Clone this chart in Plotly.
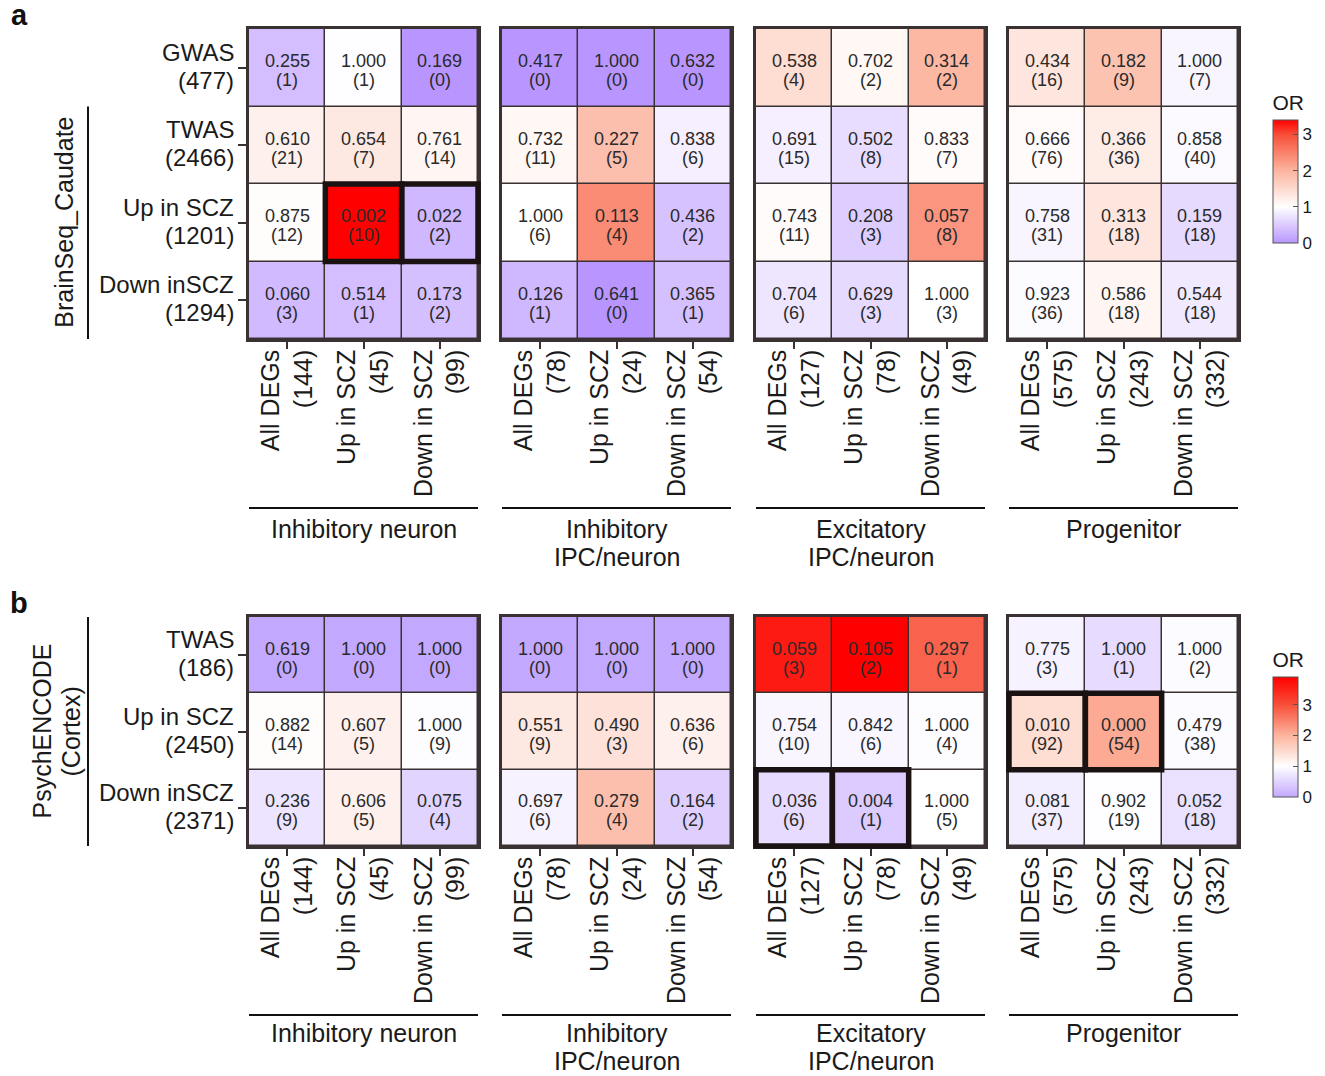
import plotly.graph_objects as go

# ---------------- data ----------------
ROWS_A = ["GWAS<br>(477)", "TWAS<br>(2466)", "Up in SCZ<br>(1201)", "Down inSCZ<br>(1294)"]
ROWS_B = ["TWAS<br>(186)", "Up in SCZ<br>(2450)", "Down inSCZ<br>(2371)"]
GROUPS = ["Inhibitory neuron", "Inhibitory<br>IPC/neuron", "Excitatory<br>IPC/neuron", "Progenitor"]
DEG_TYPES = ["All DEGs", "Up in SCZ", "Down in SCZ"]
DEG_N = [[144, 45, 99], [78, 24, 54], [127, 78, 49], [575, 243, 332]]

# Panel a (BrainSeq_Caudate): p-values, overlap counts, odds ratios (estimated from colour)
P_A = [
    [[0.255, 1.000, 0.169], [0.610, 0.654, 0.761], [0.875, 0.002, 0.022], [0.060, 0.514, 0.173]],
    [[0.417, 1.000, 0.632], [0.732, 0.227, 0.838], [1.000, 0.113, 0.436], [0.126, 0.641, 0.365]],
    [[0.538, 0.702, 0.314], [0.691, 0.502, 0.833], [0.743, 0.208, 0.057], [0.704, 0.629, 1.000]],
    [[0.434, 0.182, 1.000], [0.666, 0.366, 0.858], [0.758, 0.313, 0.159], [0.923, 0.586, 0.544]],
]
N_A = [
    [[1, 1, 0], [21, 7, 14], [12, 10, 2], [3, 1, 2]],
    [[0, 0, 0], [11, 5, 6], [6, 4, 2], [1, 0, 1]],
    [[4, 2, 2], [15, 8, 7], [11, 3, 8], [6, 3, 3]],
    [[16, 9, 7], [76, 36, 40], [31, 18, 18], [36, 18, 18]],
]
OR_A = [
    [[0.38, 0.98, 0.0], [1.2, 1.3, 1.12], [1.03, 3.4, 0.32], [0.34, 0.38, 0.4]],
    [[0.0, 0.0, 0.0], [1.1, 1.85, 0.85], [1.0, 2.4, 0.42], [0.32, 0.0, 0.4]],
    [[1.45, 1.1, 1.95], [0.85, 0.68, 1.05], [1.05, 0.53, 2.3], [0.75, 0.65, 1.0]],
    [[1.35, 1.8, 0.9], [1.05, 1.25, 0.95], [0.9, 1.35, 0.65], [0.96, 1.12, 0.8]],
]
SIG_A = [[(2, 1), (2, 2)], [], [], []]

# Panel b (PsychENCODE Cortex)
P_B = [
    [[0.619, 1.000, 1.000], [0.882, 0.607, 1.000], [0.236, 0.606, 0.075]],
    [[1.000, 1.000, 1.000], [0.551, 0.490, 0.636], [0.697, 0.279, 0.164]],
    [[0.059, 0.105, 0.297], [0.754, 0.842, 1.000], [0.036, 0.004, 1.000]],
    [[0.775, 1.000, 1.000], [0.010, 0.000, 0.479], [0.081, 0.902, 0.052]],
]
N_B = [
    [[0, 0, 0], [14, 5, 9], [9, 5, 4]],
    [[0, 0, 0], [9, 3, 6], [6, 4, 2]],
    [[3, 2, 1], [10, 6, 4], [6, 1, 5]],
    [[3, 1, 2], [92, 54, 38], [37, 19, 18]],
]
OR_B = [
    [[0.0, 0.0, 0.0], [1.03, 1.2, 0.97], [0.7, 1.2, 0.5]],
    [[0.0, 0.0, 0.0], [1.3, 1.4, 1.2], [0.85, 1.85, 0.45]],
    [[3.6, 3.9, 2.8], [0.9, 0.9, 0.97], [0.6, 0.4, 1.0]],
    [[0.85, 0.6, 0.95], [1.45, 2.1, 0.95], [0.8, 0.98, 0.65]],
]
SIG_B = [[], [], [(2, 0), (2, 1)], [(1, 0), (1, 1)]]

OR_MAX_A = 3.4
OR_MAX_B = 3.9
OR_TICKS = [0, 1, 2, 3]

# ---------------- styling ----------------
W, H = 1325, 1076
FONT = "Liberation Sans, Arial, Helvetica, sans-serif"
TXT = "#1a1a1a"
EDGE = "#3a3232"
LABEL_SIZE = 25
LINE_H = 28  # line spacing of two-line labels (px)

HM_X = [(249, 478), (502, 731), (756, 985), (1009, 1238)]  # pixel extents
PANEL_Y = {"a": (29, 339), "b": (617, 846)}
GROUP_LINE_Y = {"a": (508, 21), "b": (1015, 18)}  # underline y, label offset


def px_x(v):
    return v / W


def px_y(v):
    return 1 - v / H


def axn(k):
    return "" if k == 1 else str(k)


def colorscale(purple, ormax):
    anchors = [(0, purple), (1, "rgb(255,255,255)"), (2, "rgb(252,180,158)"),
               (3, "rgb(248,78,56)"), (ormax, "rgb(255,0,0)")]
    return [[min(o / ormax, 1.0), c] for o, c in anchors if o <= ormax]


fig = go.Figure()
annotations = []
shapes = []


def add_panel(panel, rows, P, N, OR, SIG, ax_offset, coloraxis):
    y0p, y1p = PANEL_Y[panel]
    nrows = len(rows)
    for g in range(4):
        k = ax_offset + g + 1
        s = axn(k)
        xs = [f"{DEG_TYPES[c]}<br>({DEG_N[g][c]})" for c in range(3)]
        fig.add_trace(go.Heatmap(
            z=OR[g], x=xs, y=rows, coloraxis=coloraxis,
            xgap=1.5, ygap=1.5, xaxis=f"x{s}", yaxis=f"y{s}",
            hovertemplate="%{y} / %{x}<br>OR=%{z}<extra></extra>",
        ))
        xa = dict(domain=[px_x(HM_X[g][0]), px_x(HM_X[g][1])], anchor=f"y{s}",
                  type="category", ticks="outside", ticklen=7, tickwidth=2, tickcolor=EDGE,
                  tickangle=-90, tickfont=dict(size=LABEL_SIZE, color=TXT, family=FONT),
                  ticklabelstandoff=-9,
                  showline=True, mirror=True, linecolor=EDGE, linewidth=2.5,
                  showgrid=False, zeroline=False, fixedrange=True)
        ya = dict(domain=[px_y(y1p), px_y(y0p)], anchor=f"x{s}", type="category",
                  autorange="reversed", showline=True, mirror=True, linecolor=EDGE,
                  linewidth=2.5, showgrid=False, zeroline=False, fixedrange=True,
                  showticklabels=False)
        if g == 0:
            ya.update(ticks="outside", ticklen=8, tickwidth=2, tickcolor=EDGE)
            # row labels, two lines each, right-aligned left of the ticks
            for r in range(nrows):
                for i, line in enumerate(rows[r].split("<br>")):
                    annotations.append(dict(
                        x=0, xref=f"x{s} domain", y=rows[r], yref=f"y{s}", text=line,
                        showarrow=False, xanchor="right", yanchor="middle", xshift=-13,
                        yshift=LINE_H / 2 + 1.5 - i * LINE_H,
                        font=dict(size=24, color=TXT, family=FONT)))
        else:
            ya.update(ticks="")
        fig.layout[f"xaxis{s}"] = xa
        fig.layout[f"yaxis{s}"] = ya

        # cell texts
        for r in range(nrows):
            for c in range(3):
                for txt, sh in ((f"{P[g][r][c]:.3f}", 6.5), (f"({N[g][r][c]})", -12.5)):
                    annotations.append(dict(
                        x=xs[c], y=rows[r], xref=f"x{s}", yref=f"y{s}", text=txt,
                        showarrow=False, yshift=sh, font=dict(size=18, color="#2a2a2a", family=FONT)))
        # highlight boxes
        for (r, c) in SIG[g]:
            shapes.append(dict(type="rect", xref=f"x{s} domain", yref=f"y{s} domain",
                               x0=c / 3, x1=(c + 1) / 3, y0=1 - (r + 1) / nrows, y1=1 - r / nrows,
                               line=dict(color="#1a1212", width=5.5), layer="above"))
        # group labels + underline
        base, off = GROUP_LINE_Y[panel]
        shapes.append(dict(type="line", xref=f"x{s} domain", yref="paper", x0=0, x1=1,
                           y0=px_y(base), y1=px_y(base), line=dict(color="#111", width=2)))
        for i, line in enumerate(GROUPS[g].split("<br>")):
            annotations.append(dict(x=0.5, xref=f"x{s} domain", y=px_y(base + off), yref="paper",
                                    text=line, showarrow=False, xanchor="center", yanchor="middle",
                                    yshift=-i * LINE_H,
                                    font=dict(size=LABEL_SIZE, color=TXT, family=FONT)))


add_panel("a", ROWS_A, P_A, N_A, OR_A, SIG_A, 0, "coloraxis")
add_panel("b", ROWS_B, P_B, N_B, OR_B, SIG_B, 4, "coloraxis2")

# left brackets
shapes.append(dict(type="line", xref="paper", yref="y domain", x0=px_x(88), x1=px_x(88),
                   y0=0, y1=0.75, line=dict(color="#111", width=2)))
annotations.append(dict(x=px_x(64), xref="paper", y=0.375, yref="y domain", text="BrainSeq_Caudate",
                        textangle=-90, showarrow=False, xanchor="center", yanchor="middle",
                        font=dict(size=LABEL_SIZE, color=TXT, family=FONT)))
shapes.append(dict(type="line", xref="paper", yref="y5 domain", x0=px_x(88), x1=px_x(88),
                   y0=0, y1=1, line=dict(color="#111", width=2)))
for i, line in enumerate(["PsychENCODE", "(Cortex)"]):
    annotations.append(dict(x=px_x(41 + i * 29), xref="paper", y=0.5, yref="y5 domain", text=line,
                            textangle=-90, showarrow=False, xanchor="center", yanchor="middle",
                            font=dict(size=LABEL_SIZE, color=TXT, family=FONT)))

# panel letters
for letter, yy in (("a", 15), ("b", 603)):
    annotations.append(dict(x=px_x(19), y=px_y(yy), xref="paper", yref="paper", text=f"<b>{letter}</b>",
                            showarrow=False, xanchor="center", yanchor="middle",
                            font=dict(size=29, color="#111", family=FONT)))


def cbar(ytop, ybot):
    return dict(
        title=dict(text="OR", side="top", font=dict(size=21, color=TXT, family=FONT)),
        x=px_x(1273), xanchor="left", thickness=25, thicknessmode="pixels",
        y=px_y((ytop + ybot) / 2), yanchor="middle", len=(ybot - ytop) / H, lenmode="fraction",
        tickvals=OR_TICKS, ticks="inside", ticklen=5, tickcolor="#555",
        tickfont=dict(size=17, color=TXT, family=FONT),
        outlinewidth=1, outlinecolor="#555", ypad=0, xpad=0)


fig.update_layout(
    width=W, height=H, margin=dict(l=0, r=0, t=0, b=0),
    paper_bgcolor="white", plot_bgcolor=EDGE,
    font=dict(family=FONT, color=TXT),
    coloraxis=dict(colorscale=colorscale("rgb(185,150,255)", OR_MAX_A), cmin=0, cmax=OR_MAX_A,
                   colorbar=cbar(92, 243)),
    coloraxis2=dict(colorscale=colorscale("rgb(195,168,255)", OR_MAX_B), cmin=0, cmax=OR_MAX_B,
                    colorbar=cbar(649, 797)),
    annotations=annotations, shapes=shapes, showlegend=False,
)

fig.write_html("out.html", config={"displayModeBar": False},
               post_script="document.body.style.margin='0px';"
                           "document.documentElement.style.overflow='hidden';")
